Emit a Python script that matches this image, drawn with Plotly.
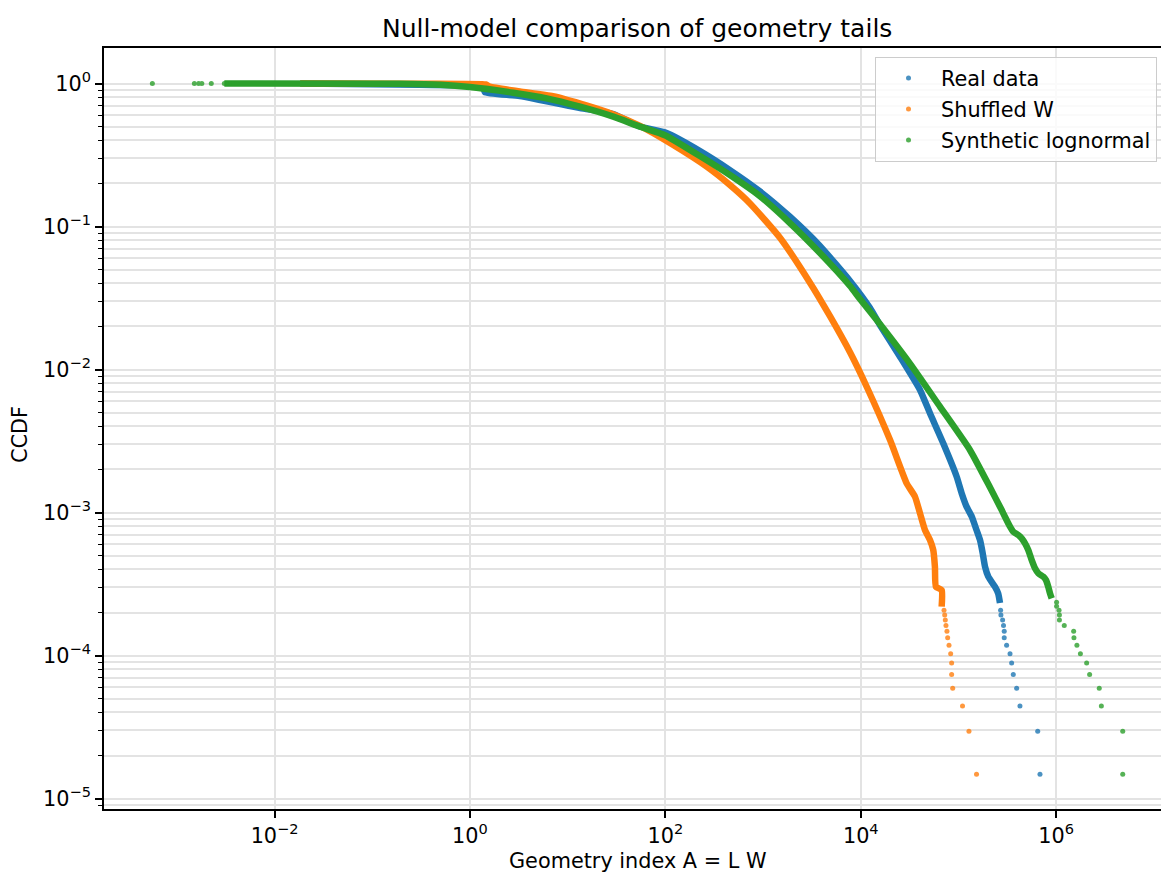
import plotly.graph_objects as go

# ---------------- data ----------------
# Real data: dense band and sparse tail
real_band_x = [0.0183, 0.30, 1.36, 1.42, 3.24, 13.4, 29.3, 55.0, 103, 226, 458, 929, 1884,
               3820, 7760, 12440, 15700, 25200, 40400, 51100, 69800, 95900, 1.08e5, 1.21e5,
               1.37e5, 1.53e5, 1.66e5, 1.77e5, 1.87e5, 2.02e5, 2.36e5, 2.55e5, 2.66e5]
real_band_y = [1.0, 0.98, 0.945, 0.87, 0.818, 0.674, 0.612, 0.50, 0.45, 0.337, 0.248, 0.176,
               0.117, 0.0731, 0.0416, 0.0269, 0.0205, 0.0123, 7.2e-3, 4.94e-3, 3.05e-3,
               1.78e-3, 1.36e-3, 1.10e-3, 9.35e-4, 7.55e-4, 6.43e-4, 5.19e-4, 4.18e-4,
               3.56e-4, 3.03e-4, 2.72e-4, 2.33e-4]
real_tail_x = [2.70e5, 2.72e5, 2.83e5, 2.89e5, 2.94e5, 2.94e5, 3.11e5, 3.37e5, 3.50e5,
               3.64e5, 3.94e5, 4.26e5, 6.47e5, 6.83e5]
real_tail_y = [2.07e-4, 1.92e-4, 1.77e-4, 1.62e-4, 1.48e-4, 1.33e-4, 1.18e-4, 1.03e-4,
               8.86e-5, 7.38e-5, 5.9e-5, 4.43e-5, 2.95e-5, 1.48e-5]

# Shuffled W
shuf_band_x = [0.0183, 0.192, 1.45, 1.6, 3.24, 7.07, 15.8, 29.1, 55.0, 120.5, 265, 458, 735,
               1489, 3020, 4840, 7760, 11500, 19950, 29500, 35900, 40400, 45400, 51100,
               55200, 57400, 58800, 67300, 67300]
shuf_band_y = [1.0, 0.997, 0.985, 0.95, 0.88, 0.815, 0.70, 0.61, 0.505, 0.371, 0.262, 0.195,
               0.145, 0.0835, 0.0405, 0.0236, 0.0132, 7.58e-3, 3.21e-3, 1.60e-3, 1.29e-3,
               9.87e-4, 7.55e-4, 6.43e-4, 5.47e-4, 4.18e-4, 3.03e-4, 2.87e-4, 2.2e-4]
shuf_tail_x = [71100, 72300, 73300, 74500, 76200, 77500, 80000, 83200, 85100, 85100, 87300,
               1.10e5, 1.28e5, 1.53e5]
shuf_tail_y = [2.07e-4, 1.92e-4, 1.77e-4, 1.62e-4, 1.48e-4, 1.33e-4, 1.18e-4, 1.03e-4,
               8.86e-5, 7.38e-5, 5.9e-5, 4.43e-5, 2.95e-5, 1.48e-5]

# Synthetic lognormal
synth_head_x = [5.61e-4, 1.51e-3, 1.67e-3, 1.80e-3, 2.25e-3, 3.06e-3, 3.3e-3, 3.55e-3,
                3.8e-3, 4.1e-3]
synth_head_y = [1.0, 1.0, 1.0, 1.0, 1.0, 1.0, 1.0, 1.0, 1.0, 1.0]
synth_band_x = [3.06e-3, 0.19, 0.5, 1.0, 2.77, 6.09, 13.4, 29.3, 55.0, 99.1, 226, 458, 929,
                1884, 3820, 7760, 9820, 15700, 31900, 64700, 1.31e5, 2.10e5, 2.77e5, 2.99e5,
                3.37e5, 3.64e5, 4.09e5, 4.44e5, 4.80e5, 5.18e5, 5.61e5, 6.07e5, 6.56e5,
                7.38e5, 7.87e5, 8.3e5, 8.65e5, 9.0e5]
synth_band_y = [1.0, 0.995, 0.98, 0.945, 0.862, 0.788, 0.688, 0.586, 0.499, 0.435, 0.311,
                0.229, 0.163, 0.1058, 0.0653, 0.0384, 0.0311, 0.0208, 0.011, 5.5e-3, 2.74e-3,
                1.5e-3, 1.04e-3, 9.35e-4, 7.96e-4, 7.34e-4, 6.96e-4, 6.6e-4, 6.09e-4,
                5.47e-4, 4.66e-4, 4.07e-4, 3.76e-4, 3.56e-4, 3.37e-4, 3.03e-4, 2.72e-4,
                2.51e-4]
synth_tail_x = [1.01e6, 1.01e6, 1.07e6, 1.08e6, 1.08e6, 1.21e6, 1.51e6, 1.52e6, 1.63e6,
                1.77e6, 2.05e6, 2.20e6, 2.76e6, 2.90e6, 4.80e6, 4.80e6]
synth_tail_y = [2.36e-4, 2.21e-4, 2.07e-4, 1.92e-4, 1.77e-4, 1.62e-4, 1.48e-4, 1.33e-4,
                1.18e-4, 1.03e-4, 8.86e-5, 7.38e-5, 5.9e-5, 4.43e-5, 2.95e-5, 1.48e-5]

series_names = ["Real data", "Shuffled W", "Synthetic lognormal"]
x_tick_vals = [1e-2, 1e0, 1e2, 1e4, 1e6]
x_tick_text = ["10<sup>−2</sup>", "10<sup>0</sup>", "10<sup>2</sup>", "10<sup>4</sup>", "10<sup>6</sup>"]
y_tick_vals = [1e-5, 1e-4, 1e-3, 1e-2, 1e-1, 1e0]
y_tick_text = ["10<sup>−5</sup>", "10<sup>−4</sup>", "10<sup>−3</sup>", "10<sup>−2</sup>",
               "10<sup>−1</sup>", "10<sup>0</sup>"]

# ---------------- styling ----------------
C_BLUE, C_ORANGE, C_GREEN = "#1f77b4", "#ff7f0e", "#2ca02c"
FONT = "DejaVu Sans"
FS = 20.8
GRID = "#e3e3e3"

fig = go.Figure()

def add_series(bx, by, tx, ty, color, name, group, head=None):
    fig.add_trace(go.Scatter(x=bx, y=by, mode="lines",
                             line=dict(color=color, width=6.5, shape="spline", smoothing=0.5),
                             legendgroup=group, showlegend=False, hoverinfo="skip"))
    if head is not None:
        fig.add_trace(go.Scatter(x=head[0], y=head[1], mode="markers",
                                 marker=dict(color=color, size=5, line=dict(width=0)),
                                 opacity=0.8, legendgroup=group, showlegend=False))
    fig.add_trace(go.Scatter(x=tx, y=ty, mode="markers", name=name,
                             marker=dict(color=color, size=5, line=dict(width=0)),
                             opacity=0.8, legendgroup=group))

add_series(real_band_x, real_band_y, real_tail_x, real_tail_y, C_BLUE, series_names[0], "a")
add_series(shuf_band_x, shuf_band_y, shuf_tail_x, shuf_tail_y, C_ORANGE, series_names[1], "b")
add_series(synth_band_x, synth_band_y, synth_tail_x, synth_tail_y, C_GREEN, series_names[2], "c",
           head=(synth_head_x, synth_head_y))

y_minor = [m * 10.0 ** e for e in range(-6, 1) for m in range(2, 10)]

fig.update_layout(
    width=1161, height=873,
    margin=dict(l=104, r=0, t=48, b=64, pad=0),
    paper_bgcolor="white", plot_bgcolor="white",
    font=dict(family=FONT, size=FS, color="black"),
    showlegend=True,
    legend=dict(x=(875 - 104) / 1057, xanchor="left", y=1 - (57 - 48) / 761, yanchor="top",
                bgcolor="rgba(255,255,255,0.8)", bordercolor="#cccccc", borderwidth=1,
                font=dict(family=FONT, size=FS), itemwidth=55, tracegroupgap=1),
    xaxis=dict(type="log", range=[-3.746, 7.073], tickmode="array", tickvals=x_tick_vals,
               ticktext=x_tick_text, ticks="outside", ticklen=7, tickwidth=1.6, tickcolor="black",
               showline=True, linecolor="black", linewidth=1.6, mirror=True,
               showgrid=True, gridcolor=GRID, gridwidth=1.6, zeroline=False,
               tickfont=dict(family=FONT, size=FS)),
    yaxis=dict(type="log", range=[-5.073, 0.2483], tickmode="array", tickvals=y_tick_vals,
               ticktext=y_tick_text, ticks="outside", ticklen=7, tickwidth=1.6, tickcolor="black",
               showline=True, linecolor="black", linewidth=1.6, mirror=False,
               showgrid=True, gridcolor=GRID, gridwidth=1.6, zeroline=False,
               tickfont=dict(family=FONT, size=FS),
               minor=dict(tickmode="array", tickvals=y_minor, ticks="outside", ticklen=4,
                          tickwidth=1.2, tickcolor="black", showgrid=True, gridcolor=GRID,
                          gridwidth=1.6)),
    annotations=[
        dict(text="Null-model comparison of geometry tails", xref="paper", yref="paper",
             x=(637 - 104) / 1057, y=1 + (48 - 29) / 761, xanchor="center", yanchor="middle",
             showarrow=False, font=dict(family=FONT, size=25)),
        dict(text="Geometry index A = L W", xref="paper", yref="paper",
             x=(637 - 104) / 1057, y=-(861 - 809) / 761, xanchor="center", yanchor="middle",
             showarrow=False, font=dict(family=FONT, size=FS)),
        dict(text="CCDF", xref="paper", yref="paper", textangle=-90,
             x=(20 - 104) / 1057, y=(809 - 435) / 761, xanchor="center", yanchor="middle",
             showarrow=False, font=dict(family=FONT, size=FS)),
    ],
)

fig.write_html("out.html")
